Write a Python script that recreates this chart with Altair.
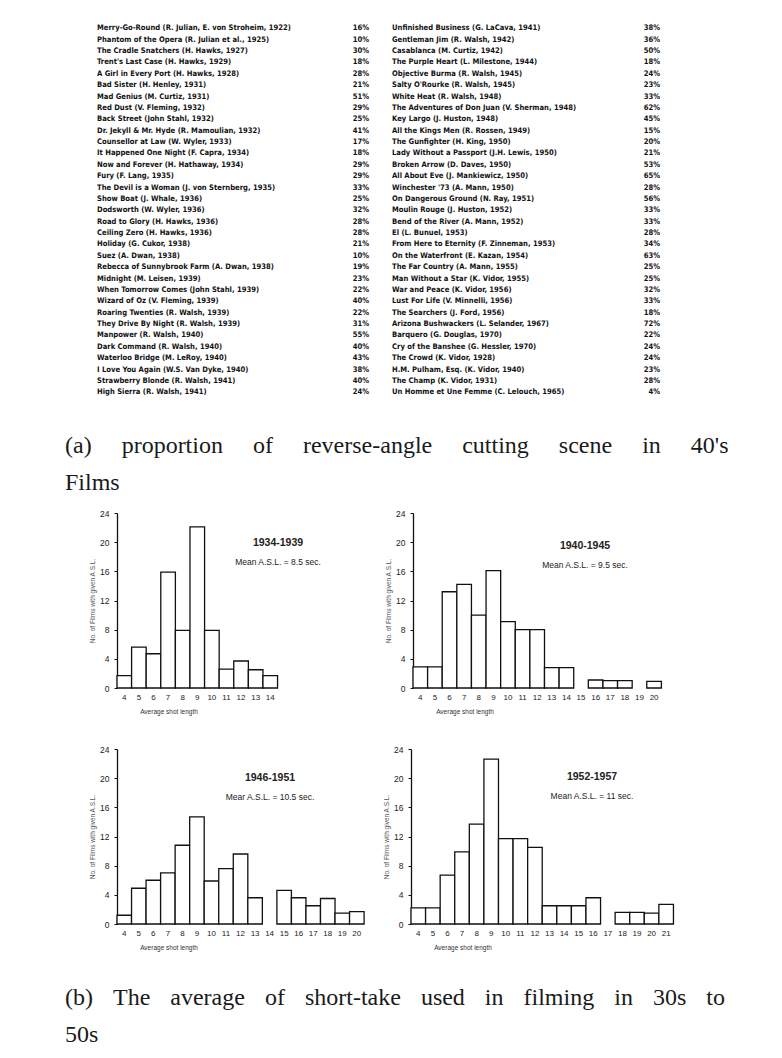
import altair as alt
import pandas as pd

# ---------------- table data (a) ----------------
left_names = [
    "Merry-Go-Round (R. Julian, E. von Stroheim, 1922)",
    "Phantom of the Opera (R. Julian et al., 1925)",
    "The Cradle Snatchers (H. Hawks, 1927)",
    "Trent's Last Case (H. Hawks, 1929)",
    "A Girl in Every Port (H. Hawks, 1928)",
    "Bad Sister (H. Henley, 1931)",
    "Mad Genius (M. Curtiz, 1931)",
    "Red Dust (V. Fleming, 1932)",
    "Back Street (John Stahl, 1932)",
    "Dr. Jekyll & Mr. Hyde (R. Mamoulian, 1932)",
    "Counsellor at Law (W. Wyler, 1933)",
    "It Happened One Night (F. Capra, 1934)",
    "Now and Forever (H. Hathaway, 1934)",
    "Fury (F. Lang, 1935)",
    "The Devil is a Woman (J. von Sternberg, 1935)",
    "Show Boat (J. Whale, 1936)",
    "Dodsworth (W. Wyler, 1936)",
    "Road to Glory (H. Hawks, 1936)",
    "Ceiling Zero (H. Hawks, 1936)",
    "Holiday (G. Cukor, 1938)",
    "Suez (A. Dwan, 1938)",
    "Rebecca of Sunnybrook Farm (A. Dwan, 1938)",
    "Midnight (M. Leisen, 1939)",
    "When Tomorrow Comes (John Stahl, 1939)",
    "Wizard of Oz (V. Fleming, 1939)",
    "Roaring Twenties (R. Walsh, 1939)",
    "They Drive By Night (R. Walsh, 1939)",
    "Manpower (R. Walsh, 1940)",
    "Dark Command (R. Walsh, 1940)",
    "Waterloo Bridge (M. LeRoy, 1940)",
    "I Love You Again (W.S. Van Dyke, 1940)",
    "Strawberry Blonde (R. Walsh, 1941)",
    "High Sierra (R. Walsh, 1941)",
]
left_pcts = [16, 10, 30, 18, 28, 21, 51, 29, 25, 41, 17, 18, 29, 29, 33, 25, 32,
             28, 28, 21, 10, 19, 23, 22, 40, 22, 31, 55, 40, 43, 38, 40, 24]

right_names = [
    "Unfinished Business (G. LaCava, 1941)",
    "Gentleman Jim (R. Walsh, 1942)",
    "Casablanca (M. Curtiz, 1942)",
    "The Purple Heart (L. Milestone, 1944)",
    "Objective Burma (R. Walsh, 1945)",
    "Salty O'Rourke (R. Walsh, 1945)",
    "White Heat (R. Walsh, 1948)",
    "The Adventures of Don Juan (V. Sherman, 1948)",
    "Key Largo (J. Huston, 1948)",
    "All the Kings Men (R. Rossen, 1949)",
    "The Gunfighter (H. King, 1950)",
    "Lady Without a Passport (J.H. Lewis, 1950)",
    "Broken Arrow (D. Daves, 1950)",
    "All About Eve (J. Mankiewicz, 1950)",
    "Winchester '73 (A. Mann, 1950)",
    "On Dangerous Ground (N. Ray, 1951)",
    "Moulin Rouge (J. Huston, 1952)",
    "Bend of the River (A. Mann, 1952)",
    "El (L. Bunuel, 1953)",
    "From Here to Eternity (F. Zinneman, 1953)",
    "On the Waterfront (E. Kazan, 1954)",
    "The Far Country (A. Mann, 1955)",
    "Man Without a Star (K. Vidor, 1955)",
    "War and Peace (K. Vidor, 1956)",
    "Lust For Life (V. Minnelli, 1956)",
    "The Searchers (J. Ford, 1956)",
    "Arizona Bushwackers (L. Selander, 1967)",
    "Barquero (G. Douglas, 1970)",
    "Cry of the Banshee (G. Hessler, 1970)",
    "The Crowd (K. Vidor, 1928)",
    "H.M. Pulham, Esq. (K. Vidor, 1940)",
    "The Champ (K. Vidor, 1931)",
    "Un Homme et Une Femme (C. Lelouch, 1965)",
]
right_pcts = [38, 36, 50, 18, 24, 23, 33, 62, 45, 15, 20, 21, 53, 65, 28, 56, 33,
              33, 28, 34, 63, 25, 25, 32, 33, 18, 72, 22, 24, 24, 23, 28, 4]

caption_a = ["(a) proportion of reverse-angle cutting scene in 40's", "Films"]
caption_b = ["(b) The average of short-take used in filming in 30s to", "50s"]

# ---------------- histogram data (b) ----------------
p1_bins = [4, 5, 6, 7, 8, 9, 10, 11, 12, 13, 14]
p1_labels = ["4", "5", "6", "7", "8", "9", "10", "11", "12", "13", "14"]
p1_counts = [1.7, 5.6, 4.7, 15.9, 7.9, 22.1, 7.9, 2.6, 3.7, 2.5, 1.7]

p2_bins = [4, 5, 6, 7, 8, 9, 10, 11, 12, 13, 14, 15, 16, 17, 18, 19, 20]
p2_labels = ["4", "5", "6", "7", "8", "9", "10", "11", "12", "13", "14", "15", "16", "17", "18", "19", "20"]
p2_counts = [2.9, 2.9, 13.2, 14.2, 10.0, 16.1, 9.1, 8.0, 8.0, 2.8, 2.8, 0, 1.1, 1.0, 1.0, 0, 0.9]

p3_bins = [4, 5, 6, 7, 8, 9, 10, 11, 12, 13, 14, 15, 16, 17, 18, 19, 20]
p3_labels = ["4", "5", "6", "7", "8", "9", "10", "11", "12", "13", "14", "15", "16", "17", "18", "19", "20"]
p3_counts = [1.2, 4.9, 6.0, 7.0, 10.8, 14.7, 5.9, 7.6, 9.6, 3.6, 0, 4.6, 3.6, 2.5, 3.5, 1.5, 1.7]

p4_bins = [4, 5, 6, 7, 8, 9, 10, 11, 12, 13, 14, 15, 16, 17, 18, 19, 20, 21]
p4_labels = ["4", "5", "6", "7", "8", "9", "10", "11", "12", "13", "14", "15", "16", "17", "18", "19", "20", "21"]
p4_counts = [2.2, 2.2, 6.7, 9.9, 13.7, 22.6, 11.7, 11.7, 10.5, 2.5, 2.5, 2.5, 3.6, 0, 1.6, 1.6, 1.5, 2.7]

y_ticks = [0, 4, 8, 12, 16, 20, 24]
y_title = "No. of Films with given A.S.L."
x_title = "Average shot length"

TABLE_FONT = "Liberation Sans Narrow, DejaVu Sans Condensed, Liberation Sans, sans-serif"
SANS = "Liberation Sans, Arial, sans-serif"
SERIF = "Liberation Serif, DejaVu Serif, serif"

# ---------------- table chart ----------------
tbl = pd.DataFrame({
    "row": list(range(len(left_names))) + list(range(len(right_names))),
    "name": left_names + right_names,
    "pct": [f"{p}%" for p in left_pcts + right_pcts],
    "col": ["L"] * len(left_names) + ["R"] * len(right_names),
})
ROW_STEP = 11.375
TABLE_H = 412
FIRST_Y = 20.3
d0 = -FIRST_Y / ROW_STEP
d1 = d0 + TABLE_H / ROW_STEP
yscale = alt.Scale(domain=[d0, d1], reverse=True, nice=False, zero=False)

tbase = alt.Chart(tbl).encode(y=alt.Y("row:Q", scale=yscale, axis=None))
tstyle = dict(font=TABLE_FONT, fontSize=7.6, fontWeight="bold", color="#111", baseline="middle")
table = alt.layer(
    tbase.transform_filter("datum.col == 'L'").mark_text(align="left", **tstyle)
         .encode(x=alt.value(89), text="name:N"),
    tbase.transform_filter("datum.col == 'L'").mark_text(align="right", **tstyle)
         .encode(x=alt.value(361), text="pct:N"),
    tbase.transform_filter("datum.col == 'R'").mark_text(align="left", **tstyle)
         .encode(x=alt.value(384), text="name:N"),
    tbase.transform_filter("datum.col == 'R'").mark_text(align="right", **tstyle)
         .encode(x=alt.value(652), text="pct:N"),
).properties(width=766, height=TABLE_H)


def spread(line, gap):
    # widen word gaps (justified caption look)
    return line.replace(" ", " " + gap)


def caption(lines, gap, h, y1, y2):
    cstyle = dict(font=SERIF, fontSize=24, color="#1a1a1a", align="left", baseline="middle")
    return alt.layer(
        alt.Chart(pd.DataFrame({"t": [spread(lines[0], gap)]})).mark_text(**cstyle)
           .encode(text="t:N", x=alt.value(57), y=alt.value(y1)),
        alt.Chart(pd.DataFrame({"t": [lines[1]]})).mark_text(**cstyle)
           .encode(text="t:N", x=alt.value(57), y=alt.value(y2)),
    ).properties(width=766, height=h)


def spacer(w, h):
    return alt.Chart(pd.DataFrame({"a": [0]})).mark_point(opacity=0, size=1).encode(
        x=alt.value(w / 2), y=alt.value(h / 2)).properties(width=w, height=h)


PH = 175


def hist(bins, labels, counts, xmax, width, title, mean, tx, ty):
    df = pd.DataFrame({"bin": bins, "count": counts, "label": labels})
    xs = alt.Scale(domain=[4, xmax], nice=False, zero=False)
    ys = alt.Scale(domain=[0, 24], nice=False, zero=True)
    bars = alt.Chart(df).transform_filter("datum.count > 0").transform_calculate(
        end="datum.bin + 1"
    ).mark_bar(fill="white", stroke="#111", strokeWidth=1.3).encode(
        x=alt.X("bin:Q", scale=xs, axis=alt.Axis(
            title=None, labels=False, ticks=False, grid=False,
            domainColor="#111", domainWidth=1.3)),
        x2="end:Q",
        y=alt.Y("count:Q", scale=ys, axis=alt.Axis(
            values=y_ticks, grid=False, tickSize=3, tickColor="#111",
            domainColor="#111", domainWidth=1.3,
            labelFont=SANS, labelFontSize=8.5, labelColor="#222", labelPadding=5,
            title=y_title, titleFont=SANS, titleFontSize=6.5, titleFontWeight="normal",
            titleColor="#555", titleX=-25, titleY=PH / 2, titleAngle=270,
            titleAlign="center", titleBaseline="middle")),
        y2=alt.datum(0),
    )
    xlabels = alt.Chart(df).transform_calculate(mid="datum.bin + 0.5").mark_text(
        font=SANS, fontSize=8, color="#222", baseline="middle"
    ).encode(x=alt.X("mid:Q", scale=xs, axis=None), y=alt.value(PH + 10), text="label:N")
    xt = alt.Chart(pd.DataFrame({"t": [x_title]})).mark_text(
        font=SANS, fontSize=6.5, color="#333", baseline="middle"
    ).encode(text="t:N", x=alt.value(52), y=alt.value(PH + 24))
    t1 = alt.Chart(pd.DataFrame({"t": [title]})).mark_text(
        font=SANS, fontSize=10.5, fontWeight="bold", color="#222", baseline="middle"
    ).encode(text="t:N", x=alt.value(tx), y=alt.value(ty))
    t2 = alt.Chart(pd.DataFrame({"t": [mean]})).mark_text(
        font=SANS, fontSize=8.5, color="#222", baseline="middle"
    ).encode(text="t:N", x=alt.value(tx), y=alt.value(ty + 19))
    return alt.layer(bars, xlabels, xt, t1, t2).properties(width=width, height=PH)


p1 = hist(p1_bins, p1_labels, p1_counts, 20.1, 235, "1934-1939", "Mean A.S.L. = 8.5 sec.", 161, 30)
p2 = hist(p2_bins, p2_labels, p2_counts, 22.0, 263, "1940-1945", "Mean A.S.L. = 9.5 sec.", 172, 33)
p3 = hist(p3_bins, p3_labels, p3_counts, 21.2, 250, "1946-1951", "Mear A.S.L. = 10.5 sec.", 153, 29)
p4 = hist(p4_bins, p4_labels, p4_counts, 21.9, 261, "1952-1957", "Mean A.S.L. = 11 sec.", 181, 28)

row1 = alt.hconcat(spacer(109, PH), p1, spacer(61, PH), p2, spacing=0, bounds="flush")
row2 = alt.hconcat(spacer(109, PH), p3, spacer(44, PH), p4, spacing=0, bounds="flush")

cap_a = caption(caption_a, "\u00a0\u00a0\u00a0\u00a0", 89, 26, 63)
cap_b = caption(caption_b, "\u00a0\u00a0\u200a", 100, 46, 83)

chart = alt.vconcat(
    table, cap_a, row1, spacer(766, 28.5), row2, cap_b,
    spacing=0, padding=0,
).configure(background="white").configure_view(strokeWidth=0)

chart.save("out.html", embed_options={"renderer": "svg", "actions": False})
